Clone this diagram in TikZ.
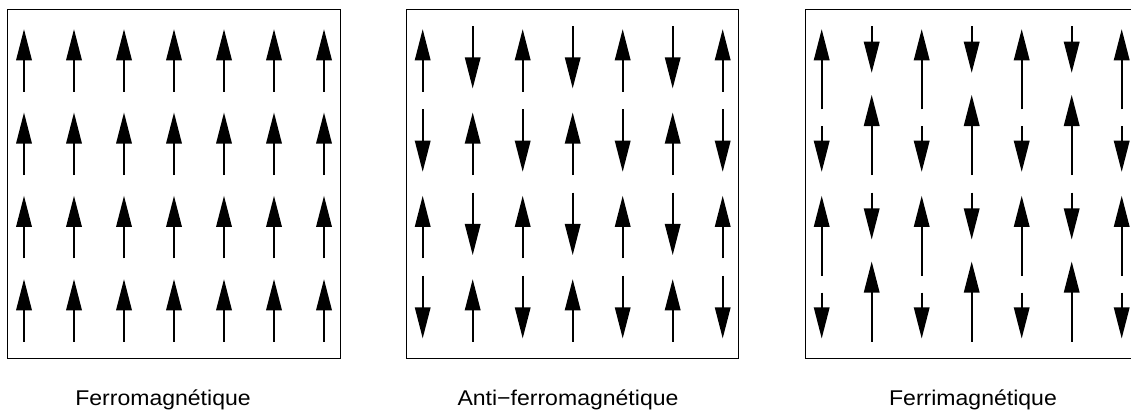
\documentclass[tikz,border=0pt]{standalone}
\usepackage{fontspec}
\newfontfamily\labfont[FakeStretch=1.08]{Liberation Sans}
\newcommand{\spinarr}[3]{%
  \pgfmathsetmacro\sax{#1}%
  \pgfmathsetmacro\sat{#2}%
  \pgfmathsetmacro\sah{#3}%
  \pgfmathsetmacro\sad{sign(\sah-\sat)}%
  \pgfmathsetmacro\sab{\sah-\sad*31}%
  \pgfmathsetmacro\sae{\sah-\sad*26}%
  \pgfmathsetmacro\sal{\sax-8}%
  \pgfmathsetmacro\sar{\sax+8}%
  \draw[shaft] (\sax,\sat) -- (\sax,\sae);
  \fill[headfill] (\sax,\sah) -- (\sal,\sab) -- (\sar,\sab) -- cycle;
}
\tikzset{
  panel/.style={draw=black, line width=0.75pt},
  shaft/.style={draw=black, line width=1.5pt},
  headfill/.style={fill=black},
  lab/.style={font=\labfont\fontsize{16pt}{19pt}\selectfont, anchor=base, inner sep=0pt}
}
\begin{document}
\begin{tikzpicture}[x=0.75pt,y=-0.75pt]
\clip (0,0) rectangle (1131,414);
\fill[white] (0,0) rectangle (1131,414);
% boxes
\draw[panel] (7.3,9.3) rectangle (340,358.3);
\draw[panel] (406.7,9.3) rectangle (738.3,358.3);
\draw[panel] (805,9.3) rectangle (1137.7,358.3);
% Ferromagnetique
\foreach \r in {0,...,3}{
  \foreach \i in {0,...,6}{
    \spinarr{24+50*\i}{91.7+83.33*\r}{29.3+83.33*\r}
  }
}
% Anti-ferromagnetique
\foreach \r in {0,...,3}{
  \foreach \i in {0,...,6}{
    \pgfmathtruncatemacro\pp{mod(\i+\r,2)}
    \ifnum\pp=0
      \spinarr{422.7+50*\i}{91.7+83.33*\r}{29.3+83.33*\r}
    \else
      \spinarr{422.7+50*\i}{26+83.33*\r}{88.3+83.33*\r}
    \fi
  }
}
% Ferrimagnetique
\foreach \k in {0,1}{
  \foreach \i in {0,...,6}{
    \pgfmathtruncatemacro\pp{mod(\i,2)}
    \ifnum\pp=0
      \spinarr{821.7+50*\i}{109.3+166.67*\k}{29.3+166.67*\k}
      \spinarr{821.7+50*\i}{126+166.67*\k}{171.7+166.67*\k}
    \else
      \spinarr{821.7+50*\i}{26+166.67*\k}{72.7+166.67*\k}
      \spinarr{821.7+50*\i}{175+166.67*\k}{95+166.67*\k}
    \fi
  }
}
% labels
\node[lab] (ferro) at (163,405.7) {Ferromagnétique};
\node[lab] (anti) at (568,405.7) {Anti−ferromagnétique};
\node[lab] (ferri) at (973,405.7) {Ferrimagnétique};
\end{tikzpicture}
\end{document}
